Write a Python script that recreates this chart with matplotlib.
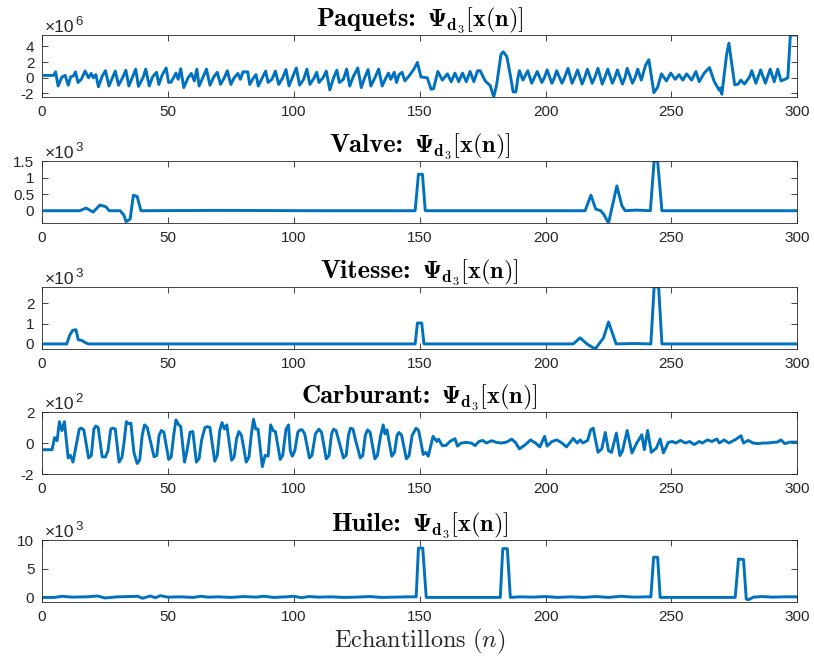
# Reproduction de la figure : opérateur Psi_d3 appliqué à 5 signaux
import matplotlib.pyplot as plt
import matplotlib._mathtext_data as mtd

plt.rcParams['mathtext.fontset'] = 'cm'
plt.rcParams['font.family'] = ['Liberation Sans', 'DejaVu Sans']
plt.rcParams['axes.unicode_minus'] = False

# Psi en gras : on prend le glyphe dans cmb10 au lieu de cmr10
police, code = mtd.latex_to_bakoma[r'\Psi']
mtd.latex_to_bakoma[r'\Psi'] = ('cmb10', code)

# ===============================
# DONNÉES (points clés : échantillon n, valeur)
# ===============================

# Paquets (x 10^6)
paq_n = [1, 4.6, 5.4, 6.4, 7.9, 9.2, 10.4, 11.4, 12.7, 13.3, 14.3, 15.6, 17.1, 18.5, 19.5, 20.4,
         21.4, 22.4, 23.9, 25.2, 26.6, 28.1, 29.1, 30.4, 32.0, 33.3, 34.5, 35.8, 37.2, 38.3, 40.1,
         41.2, 42.6, 43.9, 45.5, 46.4, 47.8, 49.3, 50.3, 51.3, 53.2, 54.1, 55.1, 56.3, 58.0, 59.3,
         60.5, 61.5, 62.4, 64.0, 65.3, 66.7, 68.2, 69.6, 70.9, 72.4, 73.6, 75.0, 76.3, 77.8, 78.8,
         79.8, 81.7, 82.5, 84.0, 85.0, 85.9, 87.5, 88.8, 89.8, 91.3, 92.7, 94.0, 95.6, 96.9, 98.1,
         99.4, 101.0, 102.3, 103.9, 105.2, 106.4, 108.1, 109.1, 110.0, 111.6, 112.9, 114.3, 115.8,
         117.1, 118.1, 119.7, 121.0, 122.2, 123.7, 125.4, 126.8, 127.9, 129.5, 130.6, 132.2, 133.7,
         135.1, 136.6, 137.6, 138.5, 139.9, 140.8, 141.8, 143.0, 144.1, 145.7, 147.6, 149.1, 150.5,
         153, 154.5, 155.5, 157.2, 159, 161, 162.5, 164, 165.5, 167, 168.5, 170, 171.5, 173, 174,
         176, 178, 179.4, 180.5, 182.3, 183.2, 184.6, 186, 187.1, 188.2, 189, 189.6, 191, 192.9,
         194.5, 195.5, 196.7, 198.5, 199.5, 200.6, 202.5, 203.5, 204.4, 206.5, 207.5, 208.9, 210.5,
         211.5, 212.7, 214.5, 215.5, 216.6, 218.5, 219.5, 220.8, 222.5, 223.5, 224.7, 226.5, 227.5,
         228.5, 230.5, 231.5, 232.4, 234.5, 235.5, 236.6, 238, 239.7, 241, 243, 244.5, 246, 248,
         249.7, 251.5, 253, 254.5, 256, 258, 259.7, 261, 263, 265.1, 267, 269, 269.5, 270, 271.9,
         272.8, 275.1, 276.5, 277.5, 279, 281, 281.9, 283.5, 285.4, 287.3, 289.2, 290.8, 292.2,
         293.5, 295, 296.2, 297.2, 300]
paq_v = [0.3, 0.3, 0.75, -1.05, 0.1, 0.3, -0.95, 0.1, 0.3, 0.75, -0.6, -0.2, 0.85, 0.0, 0.55, 0.0,
         0.4, -1.15, 0.2, 0.9, -1.05, 0.1, 0.85, -0.95, 0.0, 0.95, -1.05, 0.0, 1.1, -1.1, 0.0,
         1.1, -1.05, 0.1, 0.7, -0.85, 0.4, 1.25, -0.6, -0.55, 0.6, -0.2, 1.15, -1.25, 0.0, 0.55,
         -0.4, 1.1, -1.05, 0.1, 1.1, -0.95, 0.1, 0.7, -0.85, 0.0, 0.9, -0.85, 0.0, 0.55, -0.2,
         0.75, 0.75, -0.85, 0.0, 0.4, -1.05, 0.0, 0.85, -0.6, -0.2, 0.85, -0.85, 0.0, 1.05, -1.05,
         0.0, 1.25, -0.95, -0.2, 1.1, -0.85, 0.0, 0.7, -0.6, 0.0, 0.85, -1.55, 0.0, 0.95, -0.6,
         -0.2, 1.1, -1.05, 0.2, 1.25, -1.25, -0.2, 1.05, -1.05, 0.0, 1.1, -1.05, 0.0, 0.6, -0.2,
         0.7, -0.6, 0.4, 0.7, -0.4, 0.2, 1.05, 1.95, 0.1,
         0.0, -1.45, -1.4, 0.8, -0.3, 0.5, -0.5, 0.6, -0.5, 0.6, -0.5, 0.8, -0.5, 0.9, 0.9,
         -0.4, -1.0, -2.45, -1.0, 3.0, 3.3, 2.7, 0.3, -1.8, -1.8, 0.0, 0.9, -0.3, 0.9,
         -0.7, 0.0, 0.8, -0.6, 0.0, 1.0, -0.7, 0.0, 0.9, -0.7, 0.0, 1.2, -0.7,
         0.0, 1.0, -0.8, 0.0, 1.1, -0.7, 0.0, 1.2, -0.8, 0.0, 1.1, -0.7, 0.0,
         1.0, -0.8, 0.0, 1.2, -0.7, 0.0, 1.1, -0.3, 1.6, 2.3, -1.9, -1.2, 0.5, -0.4,
         0.6, -0.2, 0.4, -0.3, 0.5, -0.3, 0.8, -0.5, 0.6, 1.3, -0.5, -1.6, -1.3, -2.1, 3.0,
         4.4, -0.9, -0.8, -0.3, -0.8, 0.1, 0.9, -0.7, 1.0, -0.7, 1.1, -0.5, 1.1,
         -0.4, -0.2, 0.0, 5.45, 5.45]

# Valve (x 10^3)
val_n = [1, 15, 17.5, 20.3, 23, 25.4, 26.7, 31, 32.5, 33.4, 35, 36.3, 37.8, 39.3, 70, 110, 148.2,
         149.5, 151.1, 152.2, 180, 215.7, 218, 219.9, 221.9, 223, 225, 228.3, 230.3, 231.6, 236,
         241.6, 243.1, 244.5, 246.2, 300]
val_v = [0, 0, 0.08, -0.04, 0.17, 0.12, 0, 0, -0.13, -0.33, -0.25, 0.47, 0.43, 0, 0.01, 0, 0,
         1.1, 1.1, 0, 0, 0, 0.47, 0.05, 0, -0.1, -0.37, 0.75, 0.15, 0, 0.02,
         0, 1.5, 1.5, 0, 0]

# Vitesse (x 10^3)
vit_n = [1, 9.8, 11, 12.2, 13.5, 14.4, 15.7, 17, 18.3, 148.2, 149.1, 150.8, 151.7, 211, 213.7,
         216.4, 219.7, 221.5, 223, 225, 228, 235, 241.8, 243.1, 244.9, 246.2, 300]
vit_v = [0, 0, 0.43, 0.67, 0.7, 0.2, 0.18, 0.08, 0, 0, 1.03, 1.03, 0, 0, 0.3,
         0, -0.25, 0.05, 0.3, 1.08, 0, 0.02, 0, 2.8, 2.8, 0, 0]

# Carburant (x 10^2)
car_n = [1, 4, 5, 6, 6.9, 7.9, 8.9, 10.4, 11.3, 12.3, 13.5, 14.8, 15.6, 16.6, 18.5, 19.6, 20.6,
         21.4, 22.3, 23.9, 25.2, 26.2, 27.3, 28.1, 29.1, 30.6, 31.8, 32.7, 33.5, 34.4, 35.3, 36.5,
         37.8, 38.8, 39.8, 40.7, 41.8, 42.8, 44.5, 45.6, 46.5, 47.4, 48.4, 50.3, 51.3, 52.3, 53.2,
         54.2, 55.1, 56.6, 57.6, 58.8, 59.9, 61.3, 62.4, 63.4, 64.7, 65.7, 66.7, 68.6, 69.6, 70.6,
         71.5, 72.5, 73.4, 75.3, 76.3, 77.3, 78.2, 79.2, 81.1, 82.2, 83.1, 84.0, 84.9, 85.8, 87.5,
         88.6, 89.8, 90.8, 91.8, 92.7, 94.6, 95.6, 96.9, 97.9, 98.6, 99.4, 100.4, 101.6, 102.5,
         103.3, 104.3, 106.2, 107.2, 108.6, 110.0, 111.0, 112.9, 114.0, 115.0, 115.8, 116.8,
         117.8, 119.7, 120.8, 121.7, 122.5, 123.5, 124.5, 126.4, 127.4, 128.4, 129.3, 130.3,
         132.2, 133.2, 134.5, 135.5, 136.2, 137.0, 138.9, 140.0, 141.0, 141.8, 142.8, 144.7,
         145.8, 147.0, 148.6, 149.6, 151.4, 152.4, 153.4, 155.3, 156.8, 157.5, 159, 160.5, 162,
         164, 165, 166.5, 168.5, 170.5, 172, 173.5, 175, 176.5, 178.5, 180.5, 182.5, 184.5, 186.5,
         188, 189.6, 192, 194, 196, 197.7, 199.6, 200.6, 202.5, 204.5, 206.5, 208.3, 210, 211,
         212.5, 213.8, 214.8, 216.7, 217.9, 218.9, 220.8, 222.3, 223.7, 225, 226.2, 228.1, 229.5,
         230.5, 232.4, 234.3, 236.2, 238.2, 239.2, 240.5, 242, 244, 245.5, 246.8, 248.7, 250.3,
         251.7, 253.6, 255.5, 257.2, 259, 261, 262.3, 264.2, 266.1, 268, 269, 270.9, 272.8, 275.7,
         277.6, 278.6, 280.5, 282.4, 284.4, 286.3, 288.2, 290.2, 292, 293.5, 295, 297, 300]
car_v = [-0.43, -0.43, 0.35, 0.15, 1.38, 0.8, 1.38, -0.96, -0.8, -1.23, -0.2, 0.9, 0.96, 0.85,
         -0.96, -0.8, 0.9, 1.1, 1.0, -0.89, -0.9, -0.5, 0.9, 0.96, 0.9, -1.23, -0.9, 0.2, 1.38,
         1.25, 1.28, -0.6, -1.32, -1.1, 0.5, 1.17, 1.0, 0.3, -0.89, -0.8, 0.5, 0.81, 0.7, -1.06,
         -0.9, 0.5, 1.49, 1.2, 1.06, -1.23, -0.5, 0.7, 0.74, -1.23, -1.0, 0.2, 1.0, 1.06, 1.0,
         -1.17, -0.8, 0.8, 1.32, 0.9, 1.17, -1.11, -0.9, 0.3, 0.74, 0.5, -1.23, -0.9, 0.5, 1.53,
         0.9, 0.9, -1.53, -0.8, -0.85, 1.17, 0.8, 0.74, -1.06, -0.8, 0.9, 1.17, -0.5, -0.85,
         -0.5, 0.7, 0.85, 0.85, 0.6, -0.96, -0.8, 0.6, 0.89, 0.7, -1.02, -0.8, 0.6, 0.89, 0.8,
         0.2, -0.96, -0.8, 0.5, 0.96, 0.9, 0.2, -0.96, -0.8, 0.5, 0.85, 0.7, -1.02, -0.8, 0.5,
         1.17, 0.6, 0.85, -0.85, -0.6, 0.5, 0.68, 0.5, -1.02, -0.8, 0.5, 0.96, 0.8, -0.74, -0.6,
         -0.85, 0.43, 0.1, 0.25, -0.17, -0.15, 0.1, 0.28, -0.2, 0.0, 0.04, 0.0, -0.17, 0.1, 0.17,
         0.0, 0.15, 0.04, 0.0, 0.06, 0.25, 0.04, -0.38, -0.1, 0.2, 0.0, -0.25, 0.43, -0.2, 0.1,
         0.2, 0.0, -0.25, 0.1, 0.3, 0.0, 0.2, 0.0, 0.17, 0.85, 0.96, -0.6, -0.38, 0.68, -0.5,
         -0.6, 0.64, -0.81, -0.53, 0.81, -0.64, 0.0, 0.53, -0.43, 0.81, -0.6, -0.32, 0.26, -0.64,
         0.04, 0.1, 0.0, 0.17, 0.0, 0.1, -0.1, 0.1, 0.0, 0.2, 0.1, 0.26, 0.0, 0.2, 0.0, 0.25,
         0.47, 0.0, 0.17, 0.0, -0.04, 0.0, 0.0, 0.04, 0.06, 0.2, -0.04, 0.06, 0.06]

# Huile (x 10^3)
hui_n = [1, 5, 8, 12, 18, 22, 25, 30, 35, 38, 40, 43, 45, 47, 50, 55, 60, 63, 66, 70, 75, 80, 85,
         88, 92, 97, 100, 103, 106, 110, 115, 120, 125, 130, 135, 140, 145, 148.6, 149.5, 151.2,
         152.6, 160, 170, 182, 183, 184.8, 186, 190, 195, 200, 205, 210, 215, 220, 225, 230, 235,
         240, 241.8, 242.9, 244.5, 245.5, 250, 260, 270, 275.3, 276.6, 278.6, 279.7, 280.6,
         282.6, 286, 290, 295, 300]
hui_v = [0, 0, 0.2, 0.05, 0.1, 0.25, -0.1, 0.1, 0.15, 0.2, -0.15, 0.25, -0.05, 0.3, 0.05, 0.1,
         0.0, 0.2, 0.05, 0.1, 0.0, 0.15, 0.05, 0.2, 0.0, 0.1, 0.2, -0.05, 0.15, 0.05, 0.1, 0.0,
         0.05, 0.15, 0.0, 0.05, 0.1, 0.1, 8.6, 8.6, 0, 0, 0, 0, 8.5, 8.5, 0, 0.1, 0.05, 0.15,
         0.0, 0.1, 0.0, 0.15, 0.0, 0.2, 0.05, 0.1, 0.1, 7.0, 7.0, 0, 0, 0, 0, 0, 6.7, 6.6,
         -0.3, -0.4, 0.05, 0.15, 0.05, 0.1, 0.1]

noms = ['Paquets', 'Valve', 'Vitesse', 'Carburant', 'Huile']
series_n = [paq_n, val_n, vit_n, car_n, hui_n]
series_v = [paq_v, val_v, vit_v, car_v, hui_v]
exposants = [6, 3, 3, 2, 3]
yticks = [[-2, 0, 2, 4], [0, 0.5, 1, 1.5], [0, 1, 2], [-2, 0, 2], [0, 5, 10]]
ylims = [(-2.45, 5.45), (-0.37, 1.5), (-0.25, 2.8), (-2, 2), (-0.8, 10)]

# ===============================
# FIGURE
# ===============================
fig = plt.figure(figsize=(8.14, 6.58), dpi=100)
renderer = fig.canvas.get_renderer()
bas = [0.8526, 0.6611, 0.4696, 0.2796, 0.0851]
gris = '#262626'
ecart = 11  # espace (px) entre "Nom:" et la formule

for i in range(5):
    ax = fig.add_axes([0.0516, bas[i], 0.928, 0.0942])
    ax.plot(series_n[i], series_v[i], color='#0072BD', linewidth=2.1)
    ax.set_xlim(0, 300)
    ax.set_ylim(*ylims[i])
    ax.set_xticks(range(0, 301, 50))
    ax.set_yticks(yticks[i])
    ax.set_yticklabels(['%g' % t for t in yticks[i]])
    ax.tick_params(direction='in', top=True, right=True, length=4, width=0.6,
                   labelsize=11, colors=gris, pad=5.5)
    for s in ax.spines.values():
        s.set_color(gris)
        s.set_linewidth(0.6)

    # titre en style LaTeX gras : "Nom:" en cmb10 + formule en mathtext, centré sur l'axe
    t1 = ax.annotate(noms[i] + ':', xy=(0.5, 1), xycoords='axes fraction', xytext=(0, 6.5),
                     textcoords='offset points', fontfamily='cmb10', fontsize=19,
                     ha='right', va='baseline')
    t2 = ax.annotate(r'$\mathbf{\Psi_{d_3}[x(n)]}$', xy=(0.5, 1), xycoords='axes fraction',
                     xytext=(0, 6.5), textcoords='offset points', fontsize=17.5,
                     ha='left', va='baseline')
    w1 = t1.get_window_extent(renderer).width
    w2 = t2.get_window_extent(renderer).width
    t1.xyann = ((w1 - ecart - w2) / 2 * 0.72, 6.5)
    t2.xyann = ((w1 + ecart - w2) / 2 * 0.72, 6.5)

    # facteur d'échelle façon MATLAB (x10 puis exposant collé derrière)
    fx = ax.annotate('×10', xy=(0, 1), xycoords='axes fraction', xytext=(2, 2),
                     textcoords='offset points', fontsize=12.5, color=gris, va='baseline')
    wx = fx.get_window_extent(renderer).width * 0.72
    ax.annotate(str(exposants[i]), xy=(0, 1), xycoords='axes fraction', xytext=(2.5 + wx, 7.5),
                textcoords='offset points', fontsize=9.5, color=gris, va='baseline')

ax.set_xlabel(r'$\mathrm{Echantillons}\ (n)$', fontsize=17.5, color=gris, labelpad=2)

plt.savefig('out.png', dpi=100)
